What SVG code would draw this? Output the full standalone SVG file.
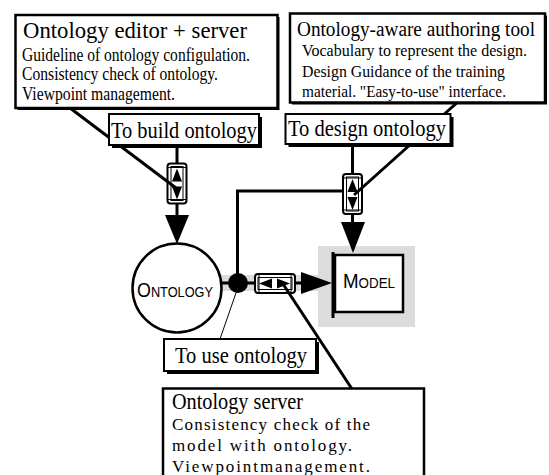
<svg xmlns="http://www.w3.org/2000/svg" width="549" height="475" viewBox="0 0 549 475">
<style>
.box{fill:#fff;stroke:#000;stroke-width:2.5}
.tag{fill:#fff;stroke:#000;stroke-width:2}
.shadow{fill:#000}
.serif{font-family:"Liberation Serif","Times New Roman",serif;fill:#000}
.sans{font-family:"Liberation Sans",Arial,sans-serif;fill:#000;font-variant:small-caps}
.line{stroke:#000;stroke-width:3;fill:none}
.thin{stroke:#000;stroke-width:1;fill:none}
.cyl{fill:#fff;stroke:#000;stroke-width:2}
.cyli{fill:none;stroke:#000;stroke-width:1}
.gray{fill:#dcdcdc}
</style>
<defs>
<g id="vcyl">
<rect class="cyl" x="-9.5" y="-20" width="19" height="40" rx="3"/>
<rect class="cyli" x="-6" y="-17" width="12" height="34"/>
<line class="cyli" x1="-9" y1="-16" x2="9" y2="-16"/>
<line class="cyli" x1="-9" y1="16" x2="9" y2="16"/>
<polygon points="0,-15 -5,-2 5,-2" fill="#000"/>
<polygon points="0,16 -5,3 5,3" fill="#000"/>
</g>
</defs>

<rect class="gray" x="218" y="275" width="100" height="16"/>
<rect class="gray" x="318" y="246" width="97" height="81"/>

<g id="connectors">
<line class="line" x1="177" y1="146" x2="177" y2="216"/>
<polygon points="165,215 189,215 177,244" fill="#000"/>
<line class="line" x1="352.5" y1="145" x2="352.5" y2="224"/>
<polygon points="341,222 365,222 353,253" fill="#000"/>
<polyline class="line" points="352,191 237.5,191 237.5,275"/>
<line class="line" x1="221" y1="283" x2="302" y2="283"/>
<polygon points="301,272 301,294 332,283" fill="#000"/>
<use href="#vcyl" x="177" y="183.5"/>
<use href="#vcyl" x="352.5" y="194"/>
<use href="#vcyl" transform="translate(275,283.5) rotate(90)"/>
<circle cx="238" cy="283" r="10" fill="#000"/>
<line class="thin" x1="237" y1="290" x2="220" y2="339"/>
<line class="line" x1="70" y1="108" x2="176" y2="188"/>
<line class="line" x1="460" y1="100" x2="354" y2="195"/>
<line class="line" x1="283" y1="284" x2="352" y2="389"/>
</g>

<g id="editor">
<rect class="shadow" x="17.5" y="17" width="262" height="93"/>
<rect class="box" x="15.5" y="15" width="262" height="93"/>
<text class="serif" x="23" y="38" font-size="24" textLength="224" lengthAdjust="spacingAndGlyphs">Ontology editor + server</text>
<text class="serif" x="22" y="61" font-size="18" textLength="228" lengthAdjust="spacingAndGlyphs">Guideline of ontology configulation.</text>
<text class="serif" x="22" y="80" font-size="18" textLength="196" lengthAdjust="spacingAndGlyphs">Consistency check of ontology.</text>
<text class="serif" x="22" y="100" font-size="18" textLength="153" lengthAdjust="spacingAndGlyphs">Viewpoint management.</text>
</g>

<g id="authoring">
<rect class="shadow" x="292" y="15.5" width="255" height="89"/>
<rect class="box" x="290" y="13.5" width="255" height="89"/>
<text class="serif" x="297" y="36" font-size="20" textLength="238" lengthAdjust="spacingAndGlyphs">Ontology-aware authoring tool</text>
<text class="serif" x="302" y="56" font-size="17" textLength="225" lengthAdjust="spacingAndGlyphs">Vocabulary to represent the design.</text>
<text class="serif" x="302" y="77" font-size="17" textLength="203" lengthAdjust="spacingAndGlyphs">Design Guidance of the training</text>
<text class="serif" x="302" y="97" font-size="17" textLength="204" lengthAdjust="spacingAndGlyphs">material. "Easy-to-use" interface.</text>
</g>

<g id="build">
<rect class="shadow" x="112" y="117" width="150" height="31"/>
<rect class="tag" x="109" y="114" width="150" height="31"/>
<text class="serif" x="111" y="138" font-size="23" textLength="146" lengthAdjust="spacingAndGlyphs">To build ontology</text>
</g>

<g id="design">
<rect class="shadow" x="288.5" y="117" width="165" height="30"/>
<rect class="tag" x="285.5" y="114" width="165" height="30"/>
<text class="serif" x="288" y="136" font-size="23" textLength="158" lengthAdjust="spacingAndGlyphs">To design ontology</text>
</g>

<g id="ontology">
<circle cx="177" cy="288" r="44.5" fill="#fff" stroke="#000" stroke-width="2.5"/>
<text class="sans" x="137" y="297" font-size="21" textLength="76" lengthAdjust="spacingAndGlyphs">Ontology</text>
</g>

<g id="model">
<rect x="335" y="255" width="68" height="57" fill="#fff" stroke="#000" stroke-width="2.5"/>
<line x1="333" y1="252" x2="333" y2="318" stroke="#000" stroke-width="3"/>
<text class="sans" x="343" y="288" font-size="21" textLength="52" lengthAdjust="spacingAndGlyphs">Model</text>
</g>

<g id="use">
<rect class="shadow" x="167" y="342" width="152" height="32"/>
<rect class="tag" x="164" y="339" width="152" height="32"/>
<text class="serif" x="175" y="363" font-size="23" textLength="132" lengthAdjust="spacingAndGlyphs">To use ontology</text>
</g>

<g id="server">
<rect class="box" x="163" y="388.5" width="261" height="100"/>
<text class="serif" x="172" y="409" font-size="24" textLength="131" lengthAdjust="spacingAndGlyphs">Ontology server</text>
<text class="serif" x="172" y="430" font-size="17" textLength="198" lengthAdjust="spacing">Consistency check of the</text>
<text class="serif" x="172" y="451" font-size="17" textLength="180" lengthAdjust="spacing">model with ontology.</text>
<text class="serif" x="172" y="472" font-size="17" textLength="198" lengthAdjust="spacing">Viewpointmanagement.</text>
</g>
</svg>
